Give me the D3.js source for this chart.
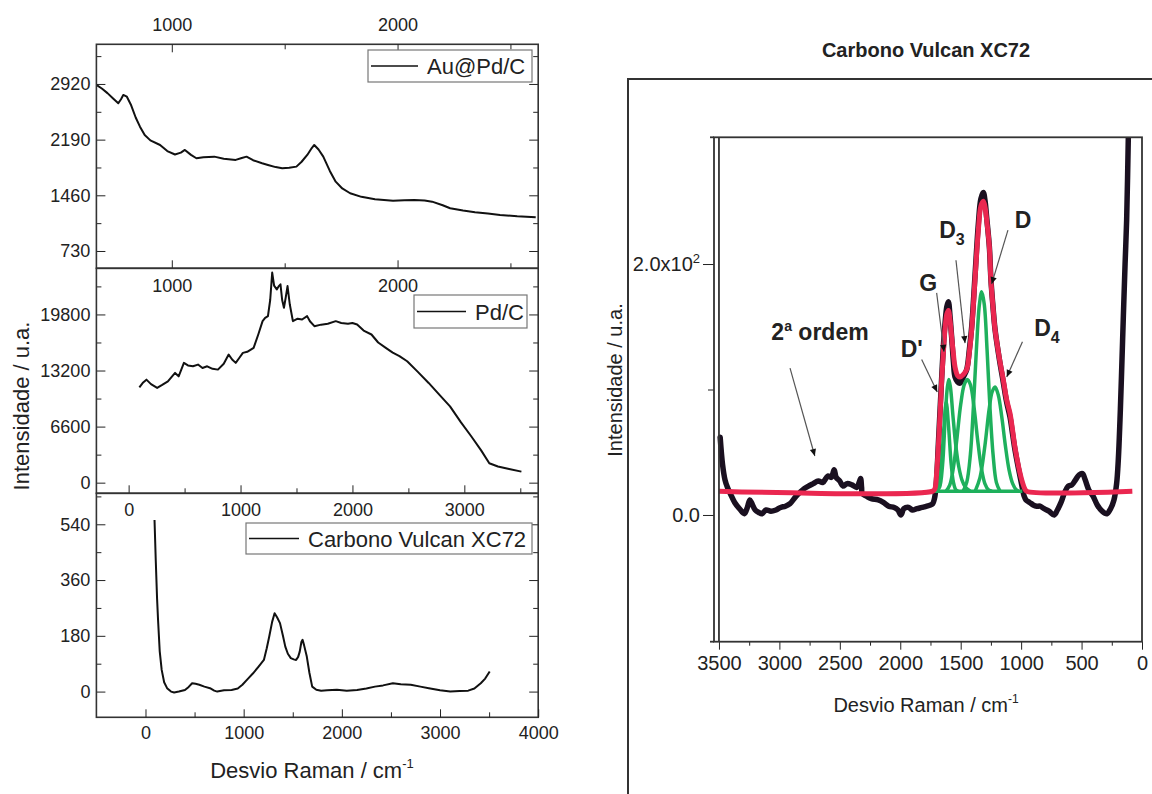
<!DOCTYPE html>
<html>
<head>
<meta charset="utf-8">
<script src="https://cdn.jsdelivr.net/npm/d3@7"></script>
<style>
  body { margin: 0; background: #fff; }
  svg text { font-family: "Liberation Sans", Arial, sans-serif; }
</style>
</head>
<body>
<svg id="chart" width="1152" height="794"></svg>
<script>
// Raman spectra: [shift in cm-1, intensity]

const auPdC = [
  [666, 2907], [690, 2860], [715, 2800], [740, 2730], [763, 2667], [775, 2720], [785, 2776],
  [801, 2753], [820, 2640], [840, 2480], [859, 2360], [880, 2250], [905, 2180], [948, 2120],
  [980, 2040], [1014, 1995], [1040, 2020], [1058, 2055], [1085, 1990], [1109, 1946], [1140, 1960],
  [1188, 1967], [1230, 1940], [1283, 1924], [1310, 1950], [1331, 1967], [1360, 1920], [1400, 1880],
  [1426, 1858], [1460, 1830], [1489, 1815], [1520, 1820], [1552, 1836], [1575, 1900], [1600, 1989],
  [1620, 2080], [1631, 2120], [1650, 2060], [1671, 1967], [1700, 1780], [1726, 1639], [1755, 1550],
  [1790, 1487], [1840, 1440], [1900, 1408], [1980, 1390], [2030, 1395], [2074, 1399], [2120, 1392],
  [2153, 1377], [2200, 1330], [2233, 1290], [2290, 1260], [2343, 1238], [2400, 1220], [2454, 1203],
  [2530, 1185], [2612, 1172]
];

const pdC = [
  [96, 11217], [130, 11800], [159, 12126], [200, 11600], [255, 11146], [300, 11500], [351, 11925],
  [415, 12917], [447, 12515], [494, 14097], [530, 13800], [575, 13696], [620, 13900], [660, 13500],
  [702, 13696], [750, 13400], [798, 13306], [850, 14000], [894, 15078], [925, 14500], [957, 14097],
  [990, 14700], [1021, 15278], [1060, 15400], [1117, 15868], [1160, 17500], [1197, 19009],
  [1220, 19400], [1245, 19600], [1265, 21500], [1283, 24724], [1300, 23200], [1324, 22752],
  [1340, 23100], [1357, 23343], [1372, 21500], [1388, 20591], [1404, 21800], [1420, 23143],
  [1440, 21000], [1468, 19009], [1510, 19300], [1550, 19200], [1595, 19600], [1620, 19000],
  [1660, 18419], [1720, 18600], [1780, 18700], [1851, 19009], [1900, 18800], [1960, 18700],
  [2000, 18800], [2042, 18620], [2100, 17900], [2170, 17440], [2230, 16500], [2298, 15868],
  [2360, 15300], [2420, 14900], [2489, 14287], [2580, 13100], [2681, 11737], [2780, 10300],
  [2872, 8973], [2970, 7100], [3063, 5431], [3150, 3800], [3223, 2290], [3300, 1900],
  [3400, 1600], [3510, 1299]
];

const vulcan = [
  [92, 554], [105, 420], [118, 300], [128, 231], [145, 130], [165, 70], [190, 30], [220, 11],
  [260, 0], [292, -3], [340, 0], [402, 5], [440, 15], [475, 27], [510, 25], [548, 22], [600, 16],
  [657, 11], [700, 3], [731, 0], [800, 4], [877, 5], [940, 10], [987, 22], [1040, 40], [1096, 59],
  [1150, 80], [1206, 102], [1235, 140], [1260, 177], [1290, 225], [1315, 253], [1340, 240],
  [1370, 221], [1400, 180], [1424, 145], [1450, 122], [1480, 108], [1510, 104], [1534, 102],
  [1555, 112], [1571, 129], [1588, 160], [1600, 167], [1615, 150], [1643, 113], [1670, 60],
  [1698, 16], [1740, 6], [1789, 3], [1850, 4], [1950, 6], [2050, 3], [2155, 5], [2250, 10],
  [2337, 16], [2420, 20], [2520, 27], [2600, 24], [2702, 22], [2800, 16], [2886, 11], [3000, 4],
  [3104, 0], [3200, 2], [3287, 3], [3350, 10], [3415, 27], [3460, 42], [3506, 65]
];

// right panel: measured spectrum, fitted sum, fitted bands
const vulcanRaw = [
  [3490, 62], [3470, 40], [3450, 28], [3430, 22], [3406, 17], [3370, 10], [3330, 5], [3290, 1],
  [3265, 6], [3245, 12], [3232, 10], [3200, 4], [3170, 2], [3144, 1], [3110, 4], [3070, 3],
  [3028, 4], [2990, 6], [2950, 7], [2912, 9], [2870, 14], [2830, 18], [2795, 21], [2760, 23],
  [2720, 25], [2678, 27], [2640, 26], [2600, 31], [2570, 30], [2547, 36], [2530, 30], [2500, 27],
  [2474, 23], [2440, 25], [2400, 24], [2360, 22], [2340, 26], [2328, 29], [2320, 22], [2314, 17],
  [2280, 15], [2240, 13], [2183, 12], [2140, 10], [2096, 7], [2050, 6], [2020, 4], [1994, 0],
  [1970, 5], [1930, 6], [1900, 4], [1862, 5], [1820, 6], [1780, 7], [1750, 8], [1732, 9],
  [1715, 14], [1700, 28], [1685, 56], [1670, 85], [1657, 110], [1643, 135], [1630, 152],
  [1615, 166], [1602, 170], [1588, 158], [1575, 142], [1560, 122], [1547, 110], [1525, 106],
  [1506, 105], [1478, 110], [1450, 116], [1428, 132], [1409, 150], [1382, 190], [1354, 232],
  [1333, 252], [1313, 257], [1298, 250], [1285, 237], [1263, 214], [1250, 188], [1232, 165],
  [1216, 148], [1180, 124], [1148, 106], [1120, 90], [1092, 78], [1070, 64], [1051, 52],
  [1020, 36], [995, 24], [975, 15], [960, 12], [930, 10], [900, 8], [870, 7], [844, 7], [810, 5],
  [770, 3], [726, 0], [700, 4], [670, 10], [640, 18], [610, 23], [580, 24], [550, 28], [520, 32],
  [493, 33], [470, 28], [440, 20], [405, 15], [370, 8], [330, 3], [290, 1], [260, 5], [232, 12],
  [210, 25], [196, 44], [182, 76], [170, 110], [155, 156], [140, 200], [127, 235], [113, 302],
  [105, 340]
];

const vulcanFit = [
  [3500, 19], [1730, 19], [1713, 21], [1700, 32], [1685, 54], [1670, 82], [1657, 108], [1643, 130],
  [1630, 148], [1615, 160], [1602, 163], [1588, 155], [1575, 142], [1560, 128], [1547, 118],
  [1525, 111], [1506, 110], [1478, 112], [1450, 116], [1428, 130], [1409, 148], [1382, 187],
  [1354, 227], [1333, 246], [1313, 250], [1298, 245], [1285, 235], [1263, 214], [1250, 187],
  [1232, 165], [1216, 148], [1180, 125], [1148, 108], [1120, 92], [1092, 81], [1070, 67],
  [1051, 54], [1020, 38], [995, 28], [970, 21], [954, 19], [80, 19]
];

const bandBase = [[1720, 19], [990, 19]];
const bandDprime = [[1700, 19], [1680, 24], [1660, 40], [1640, 68], [1620, 90], [1600, 70], [1580, 42], [1560, 26], [1540, 20], [1520, 19]];
const bandG = [[1700, 19], [1675, 22], [1650, 40], [1628, 78], [1610, 102], [1598, 108], [1585, 102], [1565, 80], [1540, 55], [1515, 38], [1490, 28], [1460, 22], [1420, 19]];
const bandD3 = [[1620, 19], [1590, 24], [1560, 38], [1530, 62], [1500, 88], [1470, 104], [1445, 108], [1420, 104], [1390, 86], [1360, 60], [1330, 38], [1300, 25], [1270, 20], [1240, 19]];
const bandD = [[1480, 19], [1450, 26], [1420, 48], [1395, 86], [1370, 132], [1345, 168], [1326, 178], [1305, 168], [1282, 132], [1258, 86], [1232, 48], [1205, 26], [1175, 19]];
const bandD4 = [[1380, 19], [1340, 30], [1300, 55], [1265, 84], [1240, 98], [1216, 102], [1190, 96], [1160, 78], [1130, 55], [1100, 36], [1070, 25], [1040, 20], [1020, 19]];

// tick values
const auPdTicks = [730, 1460, 2190, 2920];
const auPdMinor = [1095, 1825, 2555, 3285];
const pdTicks = [0, 6600, 13200, 19800];
const pdMinor = [3300, 9900, 16500, 23100];
const vulcanTicks = [0, 180, 360, 540];
const vulcanMinor = [90, 270, 450, 630];
const topShiftTicks = [1000, 2000];
const topShiftMinor = [1500, 2500];
const midShiftTicks = [0, 1000, 2000, 3000];
const midShiftMinor = [500, 1500, 2500, 3500];
const botShiftTicks = [0, 1000, 2000, 3000, 4000];
const botShiftMinor = [500, 1500, 2500, 3500];
const fitShiftTicks = [3500, 3000, 2500, 2000, 1500, 1000, 500, 0];
const fitShiftMinor = [3250, 2750, 2250, 1750, 1250, 750, 250];
const fitIntTicks = [0, 200];
const fitIntMinor = [100];

// peak labels: [shift, intensity] for text, arrow tail and arrow head
const peakLabels = [
  { label: 'D', sub: '', pos: [985, 235], tail: [1109, 227], head: [1244, 184] },
  { label: 'D', sub: '3', pos: [1572, 227], tail: [1539, 203], head: [1464, 137] },
  { label: 'G', sub: '', pos: [1768, 185], tail: [1699, 177], head: [1638, 130] },
  { label: "D'", sub: '', pos: [1905, 132], tail: [1823, 124], head: [1694, 98] },
  { label: 'D', sub: '4', pos: [786, 149], tail: [989, 138], head: [1119, 110] }
];
const secondOrder = { pos: [2664, 146], tail: [2912, 117], head: [2707, 47] };

const svg = d3.select('#chart');
const fmt = d3.format('d');

svg.append('defs').append('marker')
  .attr('id', 'arrow')
  .attr('viewBox', '0 0 10 10')
  .attr('refX', 10).attr('refY', 5)
  .attr('markerWidth', 10).attr('markerHeight', 7)
  .attr('markerUnits', 'userSpaceOnUse')
  .attr('orient', 'auto')
  .append('path').attr('d', 'M0,0.5 L10,5 L0,9.5 z').attr('fill', '#111');

// ---------------- left column: three stacked panels ----------------
const colLeft = 96.4, colRight = 538.2;

function axisG(g, axis, tx, ty, size) {
  return g.append('g')
    .attr('transform', `translate(${tx},${ty})`)
    .call(axis.tickSizeOuter(0))
    .call(s => s.select('.domain').remove())
    .attr('font-size', size || 18)
    .attr('font-family', null)
    .attr('color', '#222');
}

function drawPanel(p) {
  const x = d3.scaleLinear().domain(p.xDomain).range([colLeft, colRight]);
  const y = d3.scaleLinear().domain(p.yDomain).range([p.bottom, p.top]);
  const g = svg.append('g');

  axisG(g, d3.axisLeft(y).tickValues(p.yTicks).tickSize(-9).tickPadding(6).tickFormat(fmt), colLeft, 0);
  axisG(g, d3.axisLeft(y).tickValues(p.yMinor).tickSize(-5).tickFormat(''), colLeft, 0);
  axisG(g, d3.axisRight(y).tickValues(p.yTicks).tickSize(-9).tickFormat(''), colRight, 0);
  axisG(g, d3.axisRight(y).tickValues(p.yMinor).tickSize(-5).tickFormat(''), colRight, 0);

  g.append('path')
    .datum(p.data)
    .attr('fill', 'none')
    .attr('stroke', '#111')
    .attr('stroke-width', 2)
    .attr('stroke-linejoin', 'round')
    .attr('d', d3.line().x(d => x(d[0])).y(d => y(d[1])));

  g.append('rect')
    .attr('x', colLeft).attr('y', p.top)
    .attr('width', colRight - colLeft).attr('height', p.bottom - p.top)
    .attr('fill', 'none').attr('stroke', '#333').attr('stroke-width', 1.6);

  // legend
  const lg = svg.append('g');
  lg.append('rect')
    .attr('x', p.legend.x).attr('y', p.legend.y)
    .attr('width', p.legend.w).attr('height', p.legend.h)
    .attr('fill', '#fff').attr('stroke', '#777').attr('stroke-width', 1.2);
  lg.append('line')
    .attr('x1', p.legend.x + 3).attr('x2', p.legend.x + p.legend.line)
    .attr('y1', p.legend.y + p.legend.h / 2).attr('y2', p.legend.y + p.legend.h / 2)
    .attr('stroke', '#111').attr('stroke-width', 1.7);
  lg.append('text')
    .attr('x', p.legend.x + p.legend.line + 9)
    .attr('y', p.legend.y + p.legend.h / 2 + 8)
    .attr('font-size', 22).attr('fill', '#222')
    .text(p.legend.text);

  return { g, x, y };
}

const topP = drawPanel({
  top: 44.3, bottom: 268.3, xDomain: [666, 2623], yDomain: [503, 3440],
  yTicks: auPdTicks, yMinor: auPdMinor, data: auPdC,
  legend: { x: 368, y: 50, w: 164, h: 32, line: 50, text: 'Au@Pd/C' }
});
axisG(topP.g, d3.axisTop(topP.x).tickValues(topShiftTicks).tickSize(-8).tickPadding(13).tickFormat(fmt), 0, 44.3);
axisG(topP.g, d3.axisTop(topP.x).tickValues(topShiftMinor).tickSize(-5).tickFormat(''), 0, 44.3);
axisG(topP.g, d3.axisBottom(topP.x).tickValues(topShiftTicks).tickSize(-8).tickPadding(11).tickFormat(fmt), 0, 268.3);
axisG(topP.g, d3.axisBottom(topP.x).tickValues(topShiftMinor).tickSize(-5).tickFormat(''), 0, 268.3);

const midP = drawPanel({
  top: 268.3, bottom: 493.3, xDomain: [-288, 3660], yDomain: [-1251, 25231],
  yTicks: pdTicks, yMinor: pdMinor, data: pdC,
  legend: { x: 414, y: 295, w: 113, h: 33, line: 52, text: 'Pd/C' }
});
axisG(midP.g, d3.axisBottom(midP.x).tickValues(midShiftTicks).tickSize(-8).tickPadding(10).tickFormat(fmt), 0, 493.3);
axisG(midP.g, d3.axisBottom(midP.x).tickValues(midShiftMinor).tickSize(-5).tickFormat(''), 0, 493.3);

const botP = drawPanel({
  top: 493.3, bottom: 717.3, xDomain: [-500, 4000], yDomain: [-83, 640],
  yTicks: vulcanTicks, yMinor: vulcanMinor, data: vulcan,
  legend: { x: 246, y: 523, w: 286, h: 31, line: 53, text: 'Carbono Vulcan XC72' }
});
axisG(botP.g, d3.axisBottom(botP.x).tickValues(botShiftTicks).tickSize(-8).tickPadding(9).tickFormat(fmt), 0, 717.3);
axisG(botP.g, d3.axisBottom(botP.x).tickValues(botShiftMinor).tickSize(-5).tickFormat(''), 0, 717.3);

// shared axis titles
svg.append('text')
  .attr('transform', 'translate(29,406) rotate(-90)')
  .attr('text-anchor', 'middle').attr('font-size', 22).attr('fill', '#222')
  .text('Intensidade / u.a.');

const xt = svg.append('text')
  .attr('x', 312).attr('y', 778)
  .attr('text-anchor', 'middle').attr('font-size', 22).attr('fill', '#222')
  .text('Desvio Raman / cm');
xt.append('tspan').attr('dy', -10).attr('font-size', 13).text('-1');

// ---------------- right panel: band fit ----------------
svg.append('path')
  .attr('d', 'M628,794 V79 H1152')
  .attr('fill', 'none').attr('stroke', '#333').attr('stroke-width', 2);

svg.append('text')
  .attr('x', 926).attr('y', 57)
  .attr('text-anchor', 'middle').attr('font-size', 20).attr('font-weight', 'bold').attr('fill', '#222')
  .text('Carbono Vulcan XC72');

const pL = 714, pR = 1142, pT = 137.3, pB = 641.7;
const xR = d3.scaleLinear().domain([3541, 0]).range([pL, pR]);
const yR = d3.scaleLinear().domain([-101, 301]).range([pB, pT]);

svg.append('clipPath').attr('id', 'fit-clip')
  .append('rect').attr('x', pL).attr('y', pT).attr('width', pR - pL).attr('height', pB - pT);

const rg = svg.append('g');
const plot = rg.append('g').attr('clip-path', 'url(#fit-clip)');
const lineR = d3.line().x(d => xR(d[0])).y(d => yR(d[1])).curve(d3.curveCatmullRom.alpha(0.5));

plot.append('path').datum(vulcanRaw)
  .attr('fill', 'none').attr('stroke', '#1a1020').attr('stroke-width', 5.5)
  .attr('stroke-linejoin', 'round').attr('stroke-linecap', 'round')
  .attr('d', lineR);

[bandBase, bandDprime, bandG, bandD3, bandD, bandD4].forEach(b => {
  plot.append('path').datum(b)
    .attr('fill', 'none').attr('stroke', '#1eb05c').attr('stroke-width', 3.5)
    .attr('stroke-linejoin', 'round')
    .attr('d', lineR);
});

plot.append('path').datum(vulcanFit)
  .attr('fill', 'none').attr('stroke', '#ea2750').attr('stroke-width', 5)
  .attr('stroke-linejoin', 'round')
  .attr('d', lineR);

// axes of the fit panel
axisG(rg, d3.axisBottom(xR).tickValues(fitShiftTicks).tickSize(8).tickPadding(6).tickFormat(fmt), 0, pB, 20);
axisG(rg, d3.axisBottom(xR).tickValues(fitShiftMinor).tickSize(4).tickFormat(''), 0, pB, 20);
const yAx = axisG(rg, d3.axisLeft(yR).tickValues(fitIntTicks).tickSize(11).tickPadding(3)
  .tickFormat(d => d === 0 ? '0.0' : '2.0x10'), pL, 0, 20);
yAx.selectAll('.tick text').filter(d => d !== 0)
  .append('tspan').attr('dy', -8).attr('font-size', 13).text('2');
axisG(rg, d3.axisLeft(yR).tickValues(fitIntMinor).tickSize(6).tickFormat(''), pL, 0, 20);

rg.append('rect')
  .attr('x', pL).attr('y', pT).attr('width', pR - pL).attr('height', pB - pT)
  .attr('fill', 'none').attr('stroke', '#333').attr('stroke-width', 1.8);
rg.append('line')
  .attr('x1', xR(3500)).attr('x2', xR(3500)).attr('y1', pT).attr('y2', pB)
  .attr('stroke', '#333').attr('stroke-width', 1.8);
rg.append('line')
  .attr('x1', pL - 4).attr('x2', pL).attr('y1', pT).attr('y2', pT)
  .attr('stroke', '#333').attr('stroke-width', 1.8);
rg.append('line')
  .attr('x1', pL - 4).attr('x2', pL).attr('y1', pB).attr('y2', pB)
  .attr('stroke', '#333').attr('stroke-width', 1.8);

rg.append('text')
  .attr('transform', 'translate(622,380) rotate(-90)')
  .attr('text-anchor', 'middle').attr('font-size', 20).attr('fill', '#222')
  .text('Intensidade / u.a.');

const xtR = rg.append('text')
  .attr('x', 926).attr('y', 712)
  .attr('text-anchor', 'middle').attr('font-size', 20).attr('fill', '#222')
  .text('Desvio Raman / cm');
xtR.append('tspan').attr('dy', -9).attr('font-size', 12).text('-1');

// band labels with arrows
const ann = rg.append('g');
peakLabels.forEach(a => {
  ann.append('line')
    .attr('x1', xR(a.tail[0])).attr('y1', yR(a.tail[1]))
    .attr('x2', xR(a.head[0])).attr('y2', yR(a.head[1]))
    .attr('stroke', '#555').attr('stroke-width', 1.2)
    .attr('marker-end', 'url(#arrow)');
  const t = ann.append('text')
    .attr('x', xR(a.pos[0])).attr('y', yR(a.pos[1]) + 8)
    .attr('text-anchor', 'middle').attr('font-size', 23).attr('font-weight', 'bold').attr('fill', '#222')
    .text(a.label);
  if (a.sub) t.append('tspan').attr('dy', 7).attr('font-size', 16).text(a.sub);
});

ann.append('line')
  .attr('x1', xR(secondOrder.tail[0])).attr('y1', yR(secondOrder.tail[1]))
  .attr('x2', xR(secondOrder.head[0])).attr('y2', yR(secondOrder.head[1]))
  .attr('stroke', '#555').attr('stroke-width', 1.2)
  .attr('marker-end', 'url(#arrow)');
const so = ann.append('text')
  .attr('x', xR(secondOrder.pos[0])).attr('y', yR(secondOrder.pos[1]) + 8)
  .attr('text-anchor', 'middle').attr('font-size', 23).attr('font-weight', 'bold').attr('fill', '#222')
  .text('2');
so.append('tspan').attr('dy', -9).attr('font-size', 14).text('a');
so.append('tspan').attr('dy', 9).text(' ordem');
</script>
</body>
</html>
